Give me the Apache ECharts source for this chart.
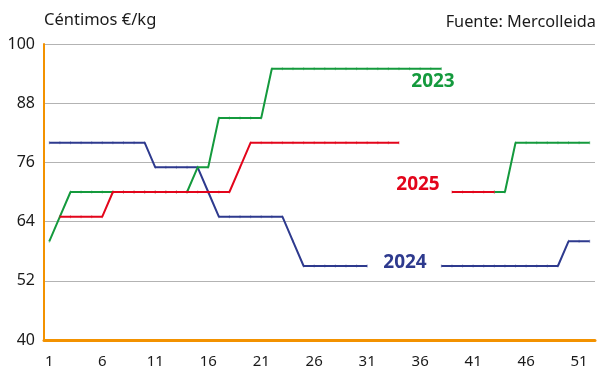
<!DOCTYPE html>
<html>
<head>
<meta charset="utf-8">
<script src="https://cdn.jsdelivr.net/npm/echarts@6/dist/echarts.min.js"></script>
<style>
  html, body { margin: 0; padding: 0; background: #fff; }
  #chart { width: 598px; height: 369px; }
</style>
</head>
<body>
<div id="chart"></div>
<script>
// Weeks of the year
const weeks = Array.from({ length: 52 }, (_, i) => String(i + 1));

// Price per week, cents €/kg (null = no quotation)
const y2023 = [
  60, 65, 70, 70, 70, 70, 70, 70, 70, 70,
  70, 70, 70, 70, 75, 75, 85, 85, 85, 85,
  85, 95, 95, 95, 95, 95, 95, 95, 95, 95,
  95, 95, 95, 95, 95, 95, 95, 95, null, null,
  null, null, 70, 70, 80, 80, 80, 80, 80, 80,
  80, 80
];
const y2024 = [
  80, 80, 80, 80, 80, 80, 80, 80, 80, 80,
  75, 75, 75, 75, 75, 70, 65, 65, 65, 65,
  65, 65, 65, 60, 55, 55, 55, 55, 55, 55,
  55, null, null, null, null, null, null, 55, 55, 55,
  55, 55, 55, 55, 55, 55, 55, 55, 55, 60,
  60, 60
];
const y2025 = [
  null, 65, 65, 65, 65, 65, 70, 70, 70, 70,
  70, 70, 70, 70, 70, 70, 70, 70, 75, 80,
  80, 80, 80, 80, 80, 80, 80, 80, 80, 80,
  80, 80, 80, 80, null, null, null, null, 70, 70,
  70, 70, 70, null, null, null, null, null, null, null,
  null, null
];
const yTicks = [40, 52, 64, 76, 88, 100];

const GREEN = '#149a3d';
const RED = '#e3051b';
const BLUE = '#2e3a8e';
const ORANGE = '#f39200';
const FONT = '"Noto Sans", "Open Sans", sans-serif';

function lineSeries(name, data, color, z) {
  return {
    name, type: 'line', data, z,
    connectNulls: false,
    symbol: 'rect',
    symbolSize: [1, 3],
    showSymbol: true,
    itemStyle: { color, opacity: 0.45 },
    lineStyle: { color, width: 2 },
    emphasis: { disabled: true },
    animation: false
  };
}

const chart = echarts.init(document.getElementById('chart'), null, { renderer: 'canvas' });
chart.setOption({
  animation: false,
  grid: { left: 44, right: 3, top: 44, bottom: 25, containLabel: false },
  xAxis: {
    type: 'category',
    data: weeks,
    boundaryGap: true,
    axisLine: { lineStyle: { color: ORANGE, width: 3 } },
    axisTick: { show: false },
    axisLabel: {
      interval: 4,
      margin: 14,
      color: '#1a1a1a',
      fontFamily: FONT,
      fontSize: 15
    },
    splitLine: { show: false }
  },
  yAxis: {
    type: 'value',
    min: yTicks[0],
    max: yTicks[yTicks.length - 1],
    interval: yTicks[1] - yTicks[0],
    axisLine: { show: true, lineStyle: { color: ORANGE, width: 2 } },
    axisTick: { show: false },
    axisLabel: {
      color: '#1a1a1a',
      fontFamily: FONT,
      fontSize: 16,
      margin: 9,
      verticalAlign: 'middle',
      padding: [8, 0, 0, 0]
    },
    splitLine: { lineStyle: { color: '#b3b3b3', width: 1.2 } }
  },
  graphic: [
    { type: 'text', left: 44, top: 12,
      style: { text: 'Céntimos €/kg', fill: '#1a1a1a', font: '16.5px ' + FONT } },
    { type: 'text', right: 2, top: 14,
      style: { text: 'Fuente: Mercolleida', fill: '#1a1a1a', font: '16.3px ' + FONT } },
    { type: 'text', x: 433, y: 82,
      style: { text: '2023', fill: GREEN, font: 'bold 19px ' + FONT, align: 'center', verticalAlign: 'middle' } },
    { type: 'text', x: 418, y: 185,
      style: { text: '2025', fill: RED, font: 'bold 19px ' + FONT, align: 'center', verticalAlign: 'middle' } },
    { type: 'text', x: 405, y: 263,
      style: { text: '2024', fill: BLUE, font: 'bold 19px ' + FONT, align: 'center', verticalAlign: 'middle' } }
  ],
  series: [
    lineSeries('2024', y2024, BLUE, 2),
    lineSeries('2023', y2023, GREEN, 3),
    lineSeries('2025', y2025, RED, 4)
  ]
});
</script>
</body>
</html>
